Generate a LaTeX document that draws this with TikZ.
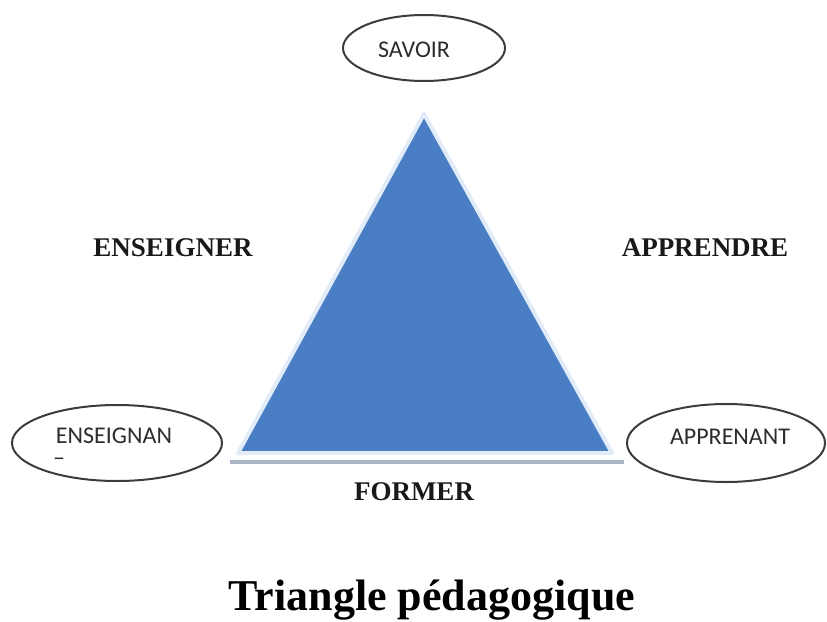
\documentclass[tikz,border=0pt]{standalone}
\usepackage{fontspec}
\setmainfont{Liberation Serif}
\newfontfamily\calfont{Carlito}
\definecolor{triblue}{RGB}{74,126,196}
\definecolor{glow}{RGB}{225,236,248}
\definecolor{basecol}{RGB}{170,182,198}
\definecolor{ellline}{RGB}{60,60,60}
\definecolor{elltext}{RGB}{45,45,45}
\tikzset{
  elltxt/.style={font=\calfont\fontsize{24}{26}\selectfont, text=elltext, inner sep=0pt},
  verb/.style={font=\bfseries\fontsize{27}{30}\selectfont, text=black!90, inner sep=0pt},
}
\begin{document}
\begin{tikzpicture}[x=1pt,y=-1pt]
\useasboundingbox (0,0) rectangle (827,621);
% triangle
\coordinate (apex) at (424,114);
\coordinate (bl) at (238,453);
\coordinate (br) at (612,453);
\draw[draw=glow, line width=4pt, line join=round, fill=triblue] (apex) -- (br) -- (bl) -- cycle;
\coordinate (b1) at (230,462);
\coordinate (b2) at (624,462);
\draw[draw=basecol, line width=3.5pt] (b1) -- (b2);
% ellipses
\draw[ellline, line width=2pt, fill=white] (424,48) ellipse [x radius=81, y radius=33];
\draw[ellline, line width=2pt, fill=white] (117,443) ellipse [x radius=105, y radius=38];
\draw[ellline, line width=2pt, fill=white] (726,443) ellipse [x radius=99, y radius=39];
\node[elltxt] (savoir) at (414,50) {SAVOIR};
\node[elltxt] (enseignant) at (114,436) {ENSEIGNAN};
\node[elltxt] (dash) at (59,462) {–};
\node[elltxt] (apprenant) at (730,437) {APPRENANT};
% verbs
\node[verb] (enseigner) at (173,248) {ENSEIGNER};
\node[verb] (apprendre) at (705,248) {APPRENDRE};
\node[verb] (former) at (414,492) {FORMER};
% title
\node[font=\bfseries\fontsize{44}{48}\selectfont, inner sep=0pt] (title) at (432,600) {Triangle pédagogique};
\end{tikzpicture}
\end{document}
